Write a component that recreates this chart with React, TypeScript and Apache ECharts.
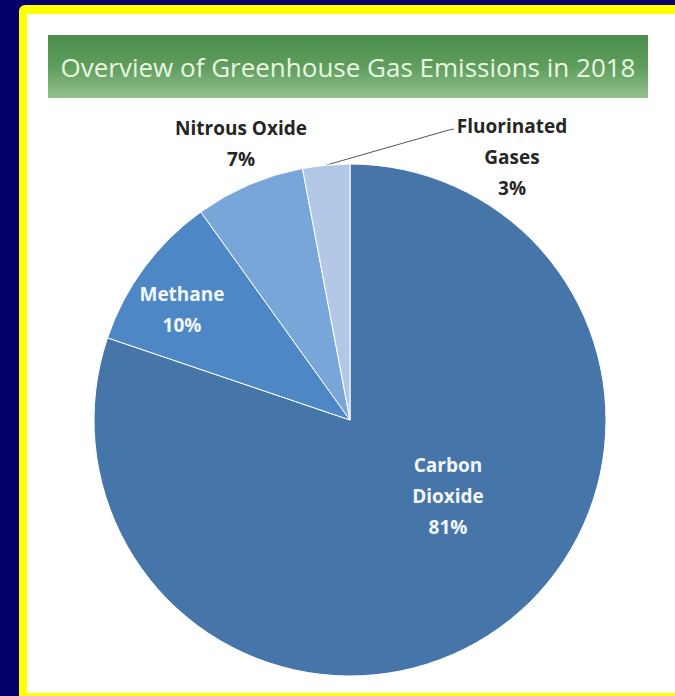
import React, { useEffect, useRef } from "react";
import * as echarts from "echarts";

const title = "Overview of Greenhouse Gas Emissions in 2018";
const gases = ["Carbon\nDioxide", "Methane", "Nitrous Oxide", "Fluorinated\nGases"];
const shares = [81, 10, 7, 3];
const sliceColors = ["#4676a9", "#4d87c5", "#79a6d9", "#b3c8e7"];
const labelColors = ["#f4f7fb", "#f4f7fb", "#262626", "#262626"];
// label centres in page pixels
const labelSpots: [number, number][] = [
  [448, 496],
  [182, 309],
  [241, 143],
  [512, 157],
];

const CX = 350;
const CY = 420;
const R = 256;

export default function App() {
  const ref = useRef<HTMLDivElement>(null);
  useEffect(() => {
    if (!ref.current) return;
    const chart = echarts.init(ref.current, null, { renderer: "svg" });
    const total = shares.reduce((a, b) => a + b, 0);
    const midAngle = (i: number) => {
      const before = shares.slice(0, i).reduce((a, b) => a + b, 0);
      const frac = (before + shares[i] / 2) / total;
      return ((90 - 360 * frac) * Math.PI) / 180;
    };
    chart.setOption({
      animation: false,
      backgroundColor: "#05006a",
      graphic: [
        {
          type: "rect",
          shape: { x: 19, y: 5, width: 656, height: 691, r: [6, 0, 0, 0] },
          style: { fill: "#ffff00" },
          z: -10,
        },
        {
          type: "rect",
          shape: { x: 27, y: 14, width: 648, height: 679 },
          style: { fill: "#ffffff" },
          z: -9,
        },
        {
          type: "rect",
          shape: { x: 48, y: 35, width: 600, height: 63 },
          style: {
            fill: new echarts.graphic.LinearGradient(0, 0, 0, 1, [
              { offset: 0, color: "#4b8e4c" },
              { offset: 0.5, color: "#5f9d5d" },
              { offset: 1, color: "#93c18e" },
            ]),
          },
          z: -8,
        },
        {
          type: "text",
          x: 348,
          y: 67,
          style: {
            text: title,
            fill: "#eaf6e2",
            font: '26px "Open Sans", sans-serif',
            align: "center",
            verticalAlign: "middle",
          },
          z: 5,
        },
      ],
      series: [
        {
          type: "pie",
          center: [CX, CY],
          radius: R,
          startAngle: 90,
          clockwise: true,
          avoidLabelOverlap: false,
          itemStyle: { borderColor: "#ffffff", borderWidth: 1 },
          label: {
            show: true,
            formatter: (p: any) => `${p.name}\n${p.value}%`,
            fontFamily: '"Open Sans", sans-serif',
            fontWeight: "bold",
            fontSize: 19,
            lineHeight: 31,
            align: "center",
          },
          labelLine: { show: false },
          labelLayout: (p: any) => {
            const i = p.dataIndex;
            const s = labelSpots[i];
            const out: any = { x: s[0], y: s[1], align: "center", verticalAlign: "middle" };
            if (i === 3) {
              const a = midAngle(i);
              const ex = CX + R * Math.cos(a);
              const ey = CY - R * Math.sin(a);
              const left = s[0] - p.labelRect.width / 2;
              out.labelLinePoints = [
                [ex, ey],
                [left - 8, s[1] - 27],
                [left - 3, s[1] - 28],
              ];
            }
            return out;
          },
          data: gases.map((g, i) => ({
            name: g,
            value: shares[i],
            itemStyle: { color: sliceColors[i] },
            label: {
              color: labelColors[i],
              position: i < 2 ? "inside" : "outside",
            },
            labelLine:
              i === 3
                ? { show: true, length: 5, length2: 6, lineStyle: { color: "#555555", width: 1 } }
                : { show: false },
          })),
        },
      ],
    });
    return () => chart.dispose();
  }, []);
  return (
    <div
      ref={ref}
      style={{ position: "fixed", left: 0, top: 0, width: 675, height: 696 }}
    />
  );
}
